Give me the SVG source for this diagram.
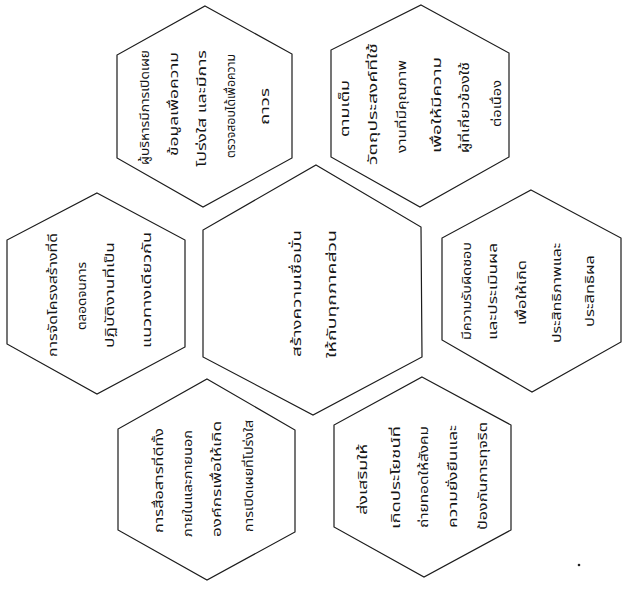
<svg xmlns="http://www.w3.org/2000/svg" width="628" height="595" viewBox="0 0 628 595">
<style>
.hex{fill:none;stroke:#1c1c1c;stroke-width:1.2;stroke-linejoin:miter}
.t{font-family:"Noto Sans Thai","Noto Sans","DejaVu Sans",sans-serif;font-size:11.5px;fill:#151515;text-anchor:middle;dominant-baseline:central}
.c{font-size:12.5px}
</style>
<rect width="628" height="595" fill="#ffffff"/>
<g id="connectors"/>
<g id="center">
<polygon class="hex" points="316,165 421,227 422,357 313,415 203,357 203,230"/>
<text class="t c" transform="translate(297,293.5) rotate(-90)" textLength="127" lengthAdjust="spacingAndGlyphs">สร้างความเชื่อมั่น</text>
<text class="t c" transform="translate(332,294) rotate(-90)" textLength="128" lengthAdjust="spacingAndGlyphs">ให้กับทุกภาคส่วน</text>
</g>
<g id="top-left">
<polygon class="hex" points="205,6 292,54 292,158 203,207 117,158 117,55"/>
<text class="t" transform="translate(145,107.5) rotate(-90)" textLength="115" lengthAdjust="spacingAndGlyphs">ผู้บริหารมีการเปิดเผย</text>
<text class="t" transform="translate(174,104) rotate(-90)" textLength="104" lengthAdjust="spacingAndGlyphs">ข้อมูลเพื่อความ</text>
<text class="t" transform="translate(202,108.5) rotate(-90)" textLength="117" lengthAdjust="spacingAndGlyphs">โปร่งใส และมีการ</text>
<text class="t" transform="translate(231,106) rotate(-90)" textLength="104" lengthAdjust="spacingAndGlyphs">ตรวจสอบได้เพื่อความ</text>
<text class="t" transform="translate(265,106.5) rotate(-90)" textLength="37" lengthAdjust="spacingAndGlyphs">ถาวร</text>
</g>
<g id="top-right">
<polygon class="hex" points="421,5 509,53 509,157 420,207 331,157 331,50"/>
<text class="t" transform="translate(345,108.5) rotate(-90)" textLength="57" lengthAdjust="spacingAndGlyphs">ตามเต็ม</text>
<text class="t" transform="translate(373,104) rotate(-90)" textLength="122" lengthAdjust="spacingAndGlyphs">วัตถุประสงค์ที่ใช้</text>
<text class="t" transform="translate(402,106.5) rotate(-90)" textLength="93" lengthAdjust="spacingAndGlyphs">งานที่มีคุณภาพ</text>
<text class="t" transform="translate(437,105) rotate(-90)" textLength="96" lengthAdjust="spacingAndGlyphs">เพื่อให้มีความ</text>
<text class="t" transform="translate(465,107.5) rotate(-90)" textLength="91" lengthAdjust="spacingAndGlyphs">ผู้ที่เกี่ยวข้องใช้</text>
<text class="t" transform="translate(497,103.5) rotate(-90)" textLength="47" lengthAdjust="spacingAndGlyphs">ต่อเนื่อง</text>
</g>
<g id="left">
<polygon class="hex" points="97,193 185,240 185,347 97,394 7,344 7,240"/>
<text class="t" transform="translate(53,295) rotate(-90)" textLength="124" lengthAdjust="spacingAndGlyphs">การจัดโครงสร้างที่ดี</text>
<text class="t" transform="translate(82,296) rotate(-90)" textLength="68" lengthAdjust="spacingAndGlyphs">ตลอดจนการ</text>
<text class="t" transform="translate(110,295) rotate(-90)" textLength="106" lengthAdjust="spacingAndGlyphs">ปฏิบัติงานที่เป็น</text>
<text class="t" transform="translate(147,290) rotate(-90)" textLength="116" lengthAdjust="spacingAndGlyphs">แนวทางเดียวกัน</text>
</g>
<g id="right">
<polygon class="hex" points="531,190 621,238 621,342 532,392 442,340 442,238"/>
<text class="t" transform="translate(467,291) rotate(-90)" textLength="98" lengthAdjust="spacingAndGlyphs">มีความรับผิดชอบ</text>
<text class="t" transform="translate(493,291.5) rotate(-90)" textLength="97" lengthAdjust="spacingAndGlyphs">และประเมินผล</text>
<text class="t" transform="translate(522,292.5) rotate(-90)" textLength="65" lengthAdjust="spacingAndGlyphs">เพื่อให้เกิด</text>
<text class="t" transform="translate(557,293) rotate(-90)" textLength="100" lengthAdjust="spacingAndGlyphs">ประสิทธิภาพและ</text>
<text class="t" transform="translate(590,291) rotate(-90)" textLength="72" lengthAdjust="spacingAndGlyphs">ประสิทธิผล</text>
</g>
<g id="bottom-left">
<polygon class="hex" points="207,379 295,430 295,532 207,580 118,530 118,429"/>
<text class="t" transform="translate(159,480.5) rotate(-90)" textLength="105" lengthAdjust="spacingAndGlyphs">การสื่อสารที่ดีทั้ง</text>
<text class="t" transform="translate(188,483.5) rotate(-90)" textLength="107" lengthAdjust="spacingAndGlyphs">ภายในและภายนอก</text>
<text class="t" transform="translate(217,479) rotate(-90)" textLength="116" lengthAdjust="spacingAndGlyphs">องค์กรเพื่อให้เกิด</text>
<text class="t" transform="translate(249,476) rotate(-90)" textLength="112" lengthAdjust="spacingAndGlyphs">การเปิดเผยที่โปร่งใส</text>
</g>
<g id="bottom-right">
<polygon class="hex" points="422,377 511,425 511,530 424,577 334,527 334,425"/>
<text class="t" transform="translate(363,479.5) rotate(-90)" textLength="71" lengthAdjust="spacingAndGlyphs">ส่งเสริมให้</text>
<text class="t" transform="translate(396,477.5) rotate(-90)" textLength="103" lengthAdjust="spacingAndGlyphs">เกิดประโยชน์ที่</text>
<text class="t" transform="translate(424,477) rotate(-90)" textLength="102" lengthAdjust="spacingAndGlyphs">ถ่ายทอดให้สังคม</text>
<text class="t" transform="translate(453,476.5) rotate(-90)" textLength="103" lengthAdjust="spacingAndGlyphs">ความยั่งยืนและ</text>
<text class="t" transform="translate(483,476) rotate(-90)" textLength="108" lengthAdjust="spacingAndGlyphs">ป้องกันการทุจริต</text>
</g>
<circle cx="579" cy="565" r="1.3" fill="#222"/>
</svg>
